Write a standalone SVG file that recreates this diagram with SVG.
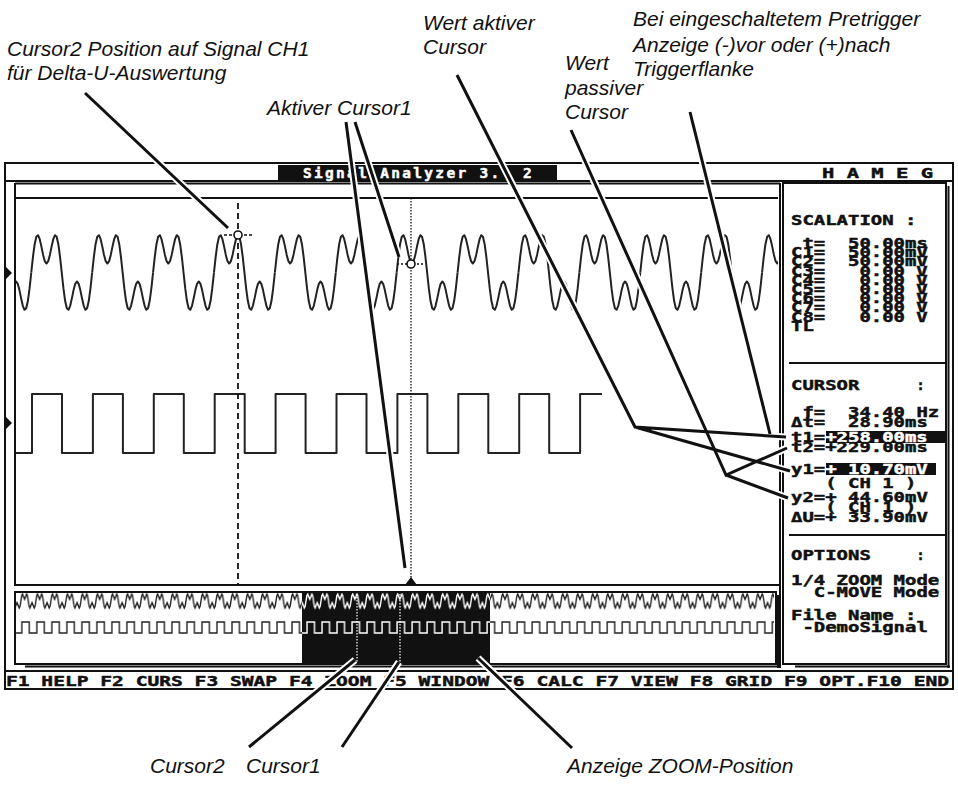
<svg xmlns="http://www.w3.org/2000/svg" xmlns:xlink="http://www.w3.org/1999/xlink" width="958" height="797" viewBox="0 0 958 797">
<style>
.scr{font-family:"DejaVu Sans Mono","Liberation Mono",monospace;font-weight:bold;font-size:13.5px;fill:#111;stroke:#111;stroke-width:0.45px}
.inv{fill:#fff;stroke:#fff}
.ann{font-family:"Liberation Sans",Arial,sans-serif;font-style:italic;font-size:21px;fill:#111}
.ln{fill:none;stroke:#111;stroke-width:2}
.wave{fill:none;stroke:#222;stroke-width:2;stroke-linejoin:round}
.halo{fill:none;stroke:#fff;stroke-width:7}
.lead{fill:none;stroke:#111;stroke-width:3}
</style>
<defs>
<path id="per" d="M0,0 L1.69,-15.63 L3.38,-28.31 L5.08,-35.83 L6.77,-37.3 L8.46,-33.32 L10.15,-25.86 L11.84,-17.61 L13.53,-11.3 L15.23,-8.96 L16.92,-11.3 L18.61,-17.61 L20.3,-25.86 L21.99,-33.32 L23.68,-37.3 L25.38,-35.83 L27.07,-28.31 L28.76,-15.63 L30.45,0 L32.14,15.63 L33.83,28.31 L35.53,35.83 L37.22,37.3 L38.91,33.32 L40.6,25.86 L42.29,17.61 L43.98,11.3 L45.68,8.96 L47.37,11.3 L49.06,17.61 L50.75,25.86 L52.44,33.32 L54.13,37.3 L55.83,35.83 L57.52,28.31 L59.21,15.63 L60.9,0"/>
<clipPath id="mainClip"><rect x="16" y="199" width="762" height="190"/></clipPath>
<pattern id="miniB" patternUnits="userSpaceOnUse" x="306.01" y="592" width="15.01" height="50">
<path d="M-0.834,14.31 L0,9 L0.834,3.69 L1.668,2 L2.502,4.15 L3.753,7.32 L5.003,4.15 L5.837,2 L6.671,3.69 L7.505,9 L8.339,14.31 L9.173,16 L10.007,13.85 L11.258,10.68 L12.508,13.85 L13.342,16 L14.176,14.31 L15.01,9 L15.844,3.69" fill="none" stroke="#222" stroke-width="1.4"/>
<path d="M-1,41 L1,41 L1,30 L8.5,30 L8.5,41 L16,41" fill="none" stroke="#222" stroke-width="1.4"/>
</pattern>
<pattern id="miniW" patternUnits="userSpaceOnUse" x="306.01" y="592" width="15.01" height="50">
<path d="M-0.834,14.31 L0,9 L0.834,3.69 L1.668,2 L2.502,4.15 L3.753,7.32 L5.003,4.15 L5.837,2 L6.671,3.69 L7.505,9 L8.339,14.31 L9.173,16 L10.007,13.85 L11.258,10.68 L12.508,13.85 L13.342,16 L14.176,14.31 L15.01,9 L15.844,3.69" fill="none" stroke="#fff" stroke-width="1.4"/>
<path d="M-1,41 L1,41 L1,30 L8.5,30 L8.5,41 L16,41" fill="none" stroke="#fff" stroke-width="1.4"/>
</pattern>
<path id="c1" d="M85,93 L228,228"/>
<path id="c2" d="M346,122 L405,568"/>
<path id="c3" d="M355,122 L399,257"/>
<path id="c4" d="M457,75 L635,427 L786,437 M635,427 L790,471"/>
<path id="c5" d="M571,130 L726,475 L787,448 M726,475 L788,498"/>
<path id="c6" d="M690,112 L770,434"/>
<path id="c7" d="M355,660 L249,747"/>
<path id="c8" d="M399,662 L342,747"/>
<path id="c9" d="M478,658 L572,748"/>
</defs>
<rect width="958" height="797" fill="#fff"/>

<g id="screen-frame">
<rect x="5" y="163" width="948" height="526" class="ln" stroke-width="2.5"/>
<line x1="5" y1="181" x2="953" y2="181" class="ln"/>
<line x1="5" y1="671" x2="953" y2="671" class="ln" stroke-width="1.5"/>
</g>

<g id="header">
<rect x="278" y="165" width="279" height="15" fill="#111"/>
<text x="303" y="177.5" class="scr inv" style="font-size:14.5px;letter-spacing:2.3px">Signal Analyzer 3.<tspan x="523">2</tspan></text>
<text x="822" y="177.5" class="scr" style="font-size:14.5px" textLength="111" lengthAdjust="spacingAndGlyphs">H A M E G</text>
</g>

<g id="main-panel">
<line x1="15" y1="183.5" x2="780" y2="183.5" class="ln"/>
<line x1="15" y1="183" x2="15" y2="586" class="ln"/>
<line x1="15" y1="198" x2="778" y2="198" class="ln" stroke-width="1.5"/>
<line x1="780" y1="183" x2="780" y2="668" class="ln" stroke-width="3.5"/>
<line x1="15" y1="585" x2="780" y2="585" class="ln" stroke-width="3.5"/>
<polygon points="6,267 12,273 6,279" fill="#111"/>
<polygon points="6,417 12,423 6,429" fill="#111"/>
<g id="ch1" clip-path="url(#mainClip)" class="wave">
<use xlink:href="#per" transform="translate(-29.625,272.5)"/>
<use xlink:href="#per" transform="translate(31.275,272.5)"/>
<use xlink:href="#per" transform="translate(92.175,272.5)"/>
<use xlink:href="#per" transform="translate(153.075,272.5)"/>
<use xlink:href="#per" transform="translate(213.975,272.5)"/>
<use xlink:href="#per" transform="translate(274.875,272.5)"/>
<use xlink:href="#per" transform="translate(335.775,272.5)"/>
<use xlink:href="#per" transform="translate(396.675,272.5)"/>
<use xlink:href="#per" transform="translate(457.575,272.5)"/>
<use xlink:href="#per" transform="translate(518.475,272.5)"/>
<use xlink:href="#per" transform="translate(579.375,272.5)"/>
<use xlink:href="#per" transform="translate(640.275,272.5)"/>
<use xlink:href="#per" transform="translate(701.175,272.5)"/>
<use xlink:href="#per" transform="translate(762.075,272.5)"/>
</g>
<path id="ch2" class="wave" d="M16,453 L32,453 L32,394 L62,394 L62,453 L92.9,453 L92.9,394 L122.9,394 L122.9,453 L153.8,453 L153.8,394 L183.8,394 L183.8,453 L214.7,453 L214.7,394 L244.7,394 L244.7,453 L275.6,453 L275.6,394 L305.6,394 L305.6,453 L336.5,453 L336.5,394 L366.5,394 L366.5,453 L397.4,453 L397.4,394 L427.4,394 L427.4,453 L458.3,453 L458.3,394 L488.3,394 L488.3,453 L519.2,453 L519.2,394 L549.2,394 L549.2,453 L580.1,453 L580.1,394 L602,394"/>
<g id="cursor2">
<line x1="238" y1="203" x2="238" y2="584" stroke="#111" stroke-width="1.8" stroke-dasharray="6 4"/>
<line x1="224" y1="235" x2="253" y2="235" stroke="#111" stroke-width="1.5" stroke-dasharray="3 2"/>
<circle cx="238" cy="235" r="4" fill="#fff" stroke="#111" stroke-width="1.6"/>
</g>
<g id="cursor1">
<line x1="411" y1="198" x2="411" y2="578" stroke="#111" stroke-width="1.3" stroke-dasharray="1.5 1.5"/>
<line x1="397" y1="264" x2="425" y2="264" stroke="#111" stroke-width="1.5" stroke-dasharray="2 2"/>
<circle cx="411" cy="264" r="4" fill="#fff" stroke="#111" stroke-width="1.6"/>
<polygon points="405,585 411,577 417,585" fill="#111"/>
</g>
</g>

<g id="overview">
<rect x="16" y="592" width="758" height="50" fill="url(#miniB)"/>
<rect x="302" y="592" width="188" height="72" fill="#111"/>
<rect x="302" y="592" width="188" height="50" fill="url(#miniW)"/>
<line x1="357" y1="594" x2="357" y2="662" stroke="#fff" stroke-width="1.2" stroke-dasharray="1.5 1.5"/>
<line x1="400" y1="594" x2="400" y2="662" stroke="#fff" stroke-width="1.2" stroke-dasharray="1.5 1.5"/>
<rect x="15" y="592" width="761" height="72" class="ln" stroke-width="1.5"/>
<line x1="25" y1="666.5" x2="779" y2="666.5" class="ln" stroke-width="3"/>
<line x1="778" y1="595" x2="778" y2="668" class="ln" stroke-width="3"/>
</g>

<g id="right-panel">
<rect x="783" y="183" width="163" height="481" class="ln"/>
<line x1="948.5" y1="186" x2="948.5" y2="668" class="ln" stroke-width="4"/>
<line x1="795" y1="666.5" x2="950" y2="666.5" class="ln" stroke-width="4"/>
<line x1="789" y1="363" x2="945" y2="363" class="ln" stroke-width="1.5"/>
<line x1="789" y1="535" x2="945" y2="535" class="ln" stroke-width="1.5"/>
<g id="scalation">
<text x="791" y="225" class="scr" textLength="125.4" lengthAdjust="spacingAndGlyphs">SCALATION :</text>
<text x="802.4" y="248" class="scr" textLength="22.8" lengthAdjust="spacingAndGlyphs">t=</text><text x="848" y="248" class="scr" textLength="79.8" lengthAdjust="spacingAndGlyphs">50.00ms</text>
<text x="791" y="257.2" class="scr" textLength="34.2" lengthAdjust="spacingAndGlyphs">C1=</text><text x="848" y="257.2" class="scr" textLength="79.8" lengthAdjust="spacingAndGlyphs">50.00mV</text>
<text x="791" y="266.4" class="scr" textLength="34.2" lengthAdjust="spacingAndGlyphs">C2=</text><text x="848" y="266.4" class="scr" textLength="79.8" lengthAdjust="spacingAndGlyphs">50.00mV</text>
<text x="791" y="275.6" class="scr" textLength="34.2" lengthAdjust="spacingAndGlyphs">C3=</text><text x="859.4" y="275.6" class="scr" textLength="68.4" lengthAdjust="spacingAndGlyphs">0.00 V</text>
<text x="791" y="284.8" class="scr" textLength="34.2" lengthAdjust="spacingAndGlyphs">C4=</text><text x="859.4" y="284.8" class="scr" textLength="68.4" lengthAdjust="spacingAndGlyphs">0.00 V</text>
<text x="791" y="294" class="scr" textLength="34.2" lengthAdjust="spacingAndGlyphs">C5=</text><text x="859.4" y="294" class="scr" textLength="68.4" lengthAdjust="spacingAndGlyphs">0.00 V</text>
<text x="791" y="303.2" class="scr" textLength="34.2" lengthAdjust="spacingAndGlyphs">C6=</text><text x="859.4" y="303.2" class="scr" textLength="68.4" lengthAdjust="spacingAndGlyphs">0.00 V</text>
<text x="791" y="312.4" class="scr" textLength="34.2" lengthAdjust="spacingAndGlyphs">C7=</text><text x="859.4" y="312.4" class="scr" textLength="68.4" lengthAdjust="spacingAndGlyphs">0.00 V</text>
<text x="791" y="321.6" class="scr" textLength="34.2" lengthAdjust="spacingAndGlyphs">C8=</text><text x="859.4" y="321.6" class="scr" textLength="68.4" lengthAdjust="spacingAndGlyphs">0.00 V</text>
<text x="791" y="330.8" class="scr" textLength="22.8" lengthAdjust="spacingAndGlyphs">TL</text>
</g>
<g id="cursor-values">
<text x="791" y="390" class="scr" textLength="68.4" lengthAdjust="spacingAndGlyphs">CURSOR</text><text x="916.4" y="390" class="scr">:</text>
<text x="802.4" y="417" class="scr" textLength="22.8" lengthAdjust="spacingAndGlyphs">f=</text><text x="848" y="417" class="scr" textLength="91.2" lengthAdjust="spacingAndGlyphs">34.40 Hz</text>
<text x="791" y="427" class="scr" textLength="34.2" lengthAdjust="spacingAndGlyphs">Δt=</text><text x="848" y="427" class="scr" textLength="79.8" lengthAdjust="spacingAndGlyphs">28.90ms</text>
<rect x="826" y="431" width="121" height="12" fill="#111"/>
<text x="791" y="442" class="scr" textLength="34.2" lengthAdjust="spacingAndGlyphs">t1=</text><text x="825.2" y="442" class="scr inv" textLength="102.6" lengthAdjust="spacingAndGlyphs">+258.00ms</text>
<text x="791" y="452" class="scr" textLength="136.8" lengthAdjust="spacingAndGlyphs">t2=+229.00ms</text>
<rect x="826" y="463" width="110" height="12" fill="#111"/>
<text x="791" y="474" class="scr" textLength="34.2" lengthAdjust="spacingAndGlyphs">y1=</text><text x="825.2" y="474" class="scr inv" textLength="102.6" lengthAdjust="spacingAndGlyphs">+ 10.70mV</text>
<text x="825.2" y="488" class="scr" textLength="91.2" lengthAdjust="spacingAndGlyphs">( CH 1 )</text>
<text x="791" y="502" class="scr" textLength="136.8" lengthAdjust="spacingAndGlyphs">y2=+ 44.60mV</text>
<text x="825.2" y="512" class="scr" textLength="91.2" lengthAdjust="spacingAndGlyphs">( CH 1 )</text>
<text x="791" y="522" class="scr" textLength="136.8" lengthAdjust="spacingAndGlyphs">ΔU=+ 33.90mV</text>
</g>
<g id="options">
<text x="791" y="560" class="scr" textLength="79.8" lengthAdjust="spacingAndGlyphs">OPTIONS</text><text x="916.4" y="560" class="scr">:</text>
<text x="791" y="585" class="scr" textLength="148.2" lengthAdjust="spacingAndGlyphs">1/4 ZOOM Mode</text>
<text x="813.8" y="597" class="scr" textLength="125.4" lengthAdjust="spacingAndGlyphs">C-MOVE Mode</text>
<text x="791" y="620" class="scr" textLength="125.4" lengthAdjust="spacingAndGlyphs">File Name :</text>
<text x="802.4" y="632" class="scr" textLength="125.4" lengthAdjust="spacingAndGlyphs">-DemoSignal</text>
</g>
</g>

<g id="function-bar">
<text x="6" y="686" class="scr" style="font-size:14px" textLength="943" lengthAdjust="spacingAndGlyphs">F1 HELP F2 CURS F3 SWAP F4 ZOOM F5 WINDOW F6 CALC F7 VIEW F8 GRID F9 OPT.F10 END</text>
</g>

<g id="connectors">
<g class="halo">
<use xlink:href="#c1"/><use xlink:href="#c2"/><use xlink:href="#c3"/><use xlink:href="#c4"/><use xlink:href="#c5"/><use xlink:href="#c6"/><use xlink:href="#c7"/><use xlink:href="#c8"/><use xlink:href="#c9"/>
</g>
<g class="lead">
<use xlink:href="#c1"/><use xlink:href="#c2"/><use xlink:href="#c3"/><use xlink:href="#c4"/><use xlink:href="#c5"/><use xlink:href="#c6"/><use xlink:href="#c7"/><use xlink:href="#c8"/><use xlink:href="#c9"/>
</g>
</g>

<g id="label-cursor2-pos"><text x="7" y="56" class="ann">Cursor2 Position auf Signal CH1</text><text x="7" y="80" class="ann">für Delta-U-Auswertung</text></g>
<g id="label-active-cursor1"><text x="267" y="115" class="ann">Aktiver Cursor1</text></g>
<g id="label-wert-aktiv"><text x="423" y="30" class="ann">Wert aktiver</text><text x="423" y="54" class="ann">Cursor</text></g>
<g id="label-wert-passiv"><text x="565" y="70" class="ann">Wert</text><text x="565" y="95" class="ann">passiver</text><text x="565" y="119" class="ann">Cursor</text></g>
<g id="label-pretrigger"><text x="633" y="26" class="ann">Bei eingeschaltetem Pretrigger</text><text x="633" y="52" class="ann">Anzeige (-)vor oder (+)nach</text><text x="633" y="76" class="ann">Triggerflanke</text></g>
<g id="label-cursor2"><text x="150" y="773" class="ann">Cursor2</text></g>
<g id="label-cursor1"><text x="246" y="773" class="ann">Cursor1</text></g>
<g id="label-zoom-pos"><text x="567" y="773" class="ann">Anzeige ZOOM-Position</text></g>
</svg>
